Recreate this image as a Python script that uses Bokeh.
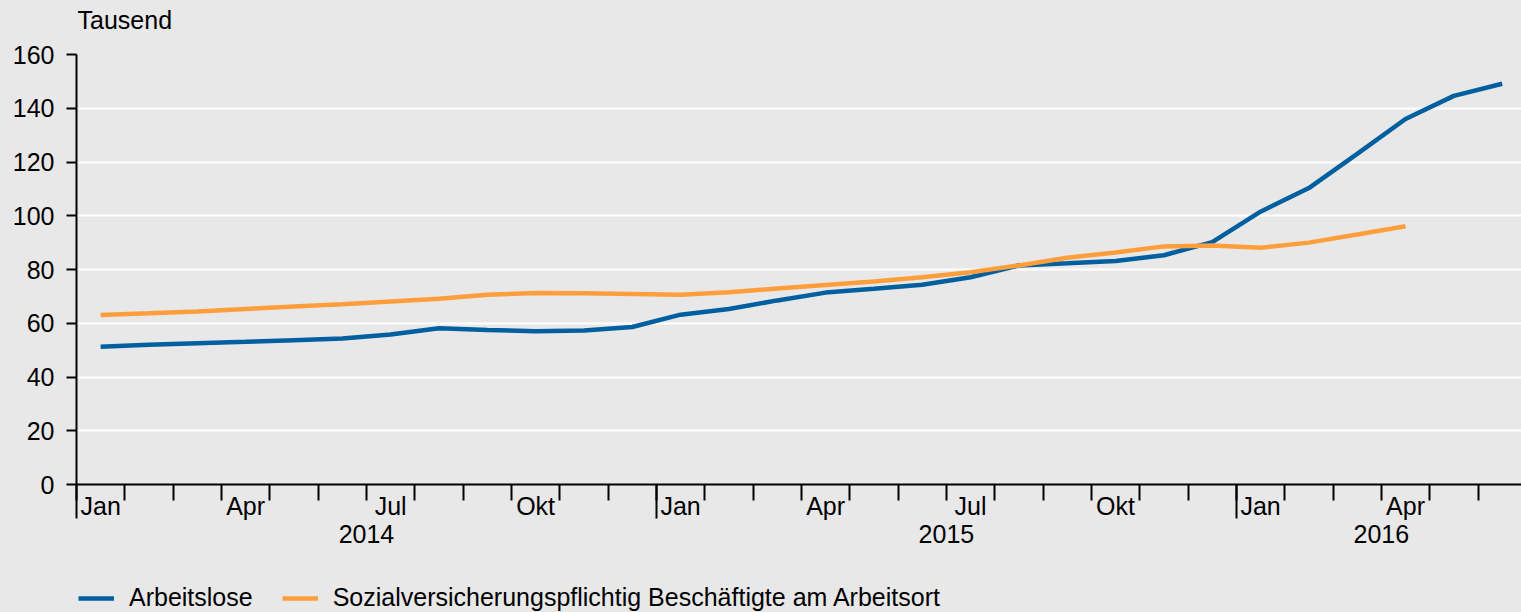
from bokeh.plotting import figure
from bokeh.models import (FixedTicker, LinearAxis, Range1d, Legend, LegendItem, Grid)
from bokeh.layouts import column
from bokeh.embed import file_html
from bokeh.resources import INLINE

# ---- data ----
months = ["Jan", "Feb", "Mär", "Apr", "Mai", "Jun", "Jul", "Aug", "Sep", "Okt", "Nov", "Dez"] * 2 + \
         ["Jan", "Feb", "Mär", "Apr", "Mai", "Jun"]
month_tick_labels = ["Jan", "Apr", "Jul", "Okt"]
years = ["2014", "2015", "2016"]
arbeitslose = [51.3, 52.0, 52.6, 53.1, 53.7, 54.3, 55.8, 58.1, 57.5, 57.0, 57.3, 58.6,
               63.2, 65.3, 68.5, 71.4, 72.8, 74.3, 77.1, 81.5, 82.3, 83.2, 85.3, 90.2,
               101.5, 110.3, 123.0, 136.0, 144.6, 149.1]
sozial = [63.1, 63.7, 64.4, 65.3, 66.2, 67.1, 68.1, 69.1, 70.6, 71.3, 71.2, 70.9,
          70.6, 71.5, 72.9, 74.2, 75.5, 77.1, 79.0, 81.5, 84.4, 86.3, 88.6, 88.9,
          88.1, 90.0, 93.0, 96.1]
y_ticks = [0, 20, 40, 60, 80, 100, 120, 140, 160]
unit_label = "Tausend"
series_names = ["Arbeitslose", "Sozialversicherungspflichtig Beschäftigte am Arbeitsort"]

BG = "#e8e8e8"
BLUE = "#005f9f"
ORANGE = "#ff9e3a"
FONT = "Liberation Sans"
FS = "25px"

n = len(months)
idx_a = list(range(len(arbeitslose)))
idx_s = list(range(len(sozial)))
X0, X1 = -0.5, 29.4

p = figure(width=1521, height=572, output_backend="svg", toolbar_location=None,
           x_range=Range1d(X0, X1), y_range=Range1d(0, 160),
           x_axis_location=None, y_axis_location=None,
           min_border_left=76, min_border_right=0, min_border_top=54, min_border_bottom=88,
           background_fill_color=BG, border_fill_color=BG, outline_line_color=None)

# unit label ("Tausend") as a single label on an invisible top axis, over the first month
unit_pos = X0 + 1.0
top_ax = LinearAxis(ticker=FixedTicker(ticks=[unit_pos]), axis_line_color=None,
                    major_tick_line_color=None, major_tick_in=0, major_tick_out=0,
                    minor_tick_line_color=None,
                    major_label_overrides={unit_pos: unit_label}, major_label_standoff=21,
                    major_label_text_font=FONT, major_label_text_font_size=FS,
                    major_label_text_color="black")
p.add_layout(top_ax, "above")

# y axis
yax = LinearAxis(ticker=FixedTicker(ticks=y_ticks), axis_line_color="black", axis_line_width=2,
                 major_tick_line_color="black", major_tick_line_width=2,
                 major_tick_in=0, major_tick_out=10, minor_tick_line_color=None,
                 major_label_standoff=12, major_label_text_font=FONT,
                 major_label_text_font_size=FS, major_label_text_color="black")
p.add_layout(yax, "left")

# x axis 1: month ticks and month labels
month_overrides = {}
for i in range(n):
    month_overrides[i] = months[i] if months[i] in month_tick_labels else ""
xax = LinearAxis(ticker=FixedTicker(ticks=list(range(n)), minor_ticks=[i - 0.5 for i in range(n + 1)]),
                 axis_line_color="black", axis_line_width=2,
                 major_tick_line_color=None, major_tick_in=0, major_tick_out=0,
                 minor_tick_line_color="black", minor_tick_line_width=2,
                 minor_tick_in=0, minor_tick_out=16,
                 major_label_overrides=month_overrides, major_label_standoff=-9,
                 major_label_text_font=FONT, major_label_text_font_size=FS,
                 major_label_text_color="black")
p.add_layout(xax, "below")

# x axis 2: year separators and year labels
year_starts = [i for i in range(n) if months[i] == "Jan"]
year_centers = []
for k, s in enumerate(year_starts):
    e = year_starts[k + 1] if k + 1 < len(year_starts) else n
    year_centers.append((s + e - 1) / 2)
year_overrides = {c: years[k] for k, c in enumerate(year_centers)}
yrax = LinearAxis(ticker=FixedTicker(ticks=year_centers, minor_ticks=[s - 0.5 for s in year_starts]),
                  axis_line_color=None,
                  major_tick_line_color=None, major_tick_in=0, major_tick_out=0,
                  minor_tick_line_color="black", minor_tick_line_width=2,
                  minor_tick_in=37, minor_tick_out=-4,
                  major_label_overrides=year_overrides, major_label_standoff=2,
                  major_label_text_font=FONT, major_label_text_font_size=FS,
                  major_label_text_color="black")
p.add_layout(yrax, "below")

p.xgrid.visible = False
p.ygrid.visible = False
g = Grid(dimension=1, ticker=FixedTicker(ticks=[t for t in y_ticks if t > 0]),
         grid_line_color="white", grid_line_width=2)
p.add_layout(g)

p.line(idx_a, arbeitslose, line_color=BLUE, line_width=4.5)
p.line(idx_s, sozial, line_color=ORANGE, line_width=4.5)

# legend strip below the chart (same series, drawn outside its visible range)
p2 = figure(width=1521, height=40, output_backend="svg", toolbar_location=None,
            x_range=Range1d(X0, X1), y_range=Range1d(-20, -10),
            x_axis_location=None, y_axis_location=None,
            min_border_left=0, min_border_right=0, min_border_top=0, min_border_bottom=0,
            background_fill_color=BG, border_fill_color=BG, outline_line_color=None)
p2.xgrid.visible = False
p2.ygrid.visible = False
l1 = p2.line(idx_a, arbeitslose, line_color=BLUE, line_width=4.5)
l2 = p2.line(idx_s, sozial, line_color=ORANGE, line_width=4.5)
legend = Legend(items=[LegendItem(label=series_names[0], renderers=[l1]),
                       LegendItem(label=series_names[1], renderers=[l2])],
                location=(2, 0), orientation="horizontal",
                background_fill_alpha=0, border_line_color=None,
                padding=0, margin=0, spacing=29, glyph_width=36, glyph_height=20,
                label_standoff=15, label_text_font=FONT, label_text_font_size=FS,
                label_text_color="black")
p2.add_layout(legend, "center")

layout = column(p, p2, spacing=0)
html = file_html(layout, INLINE)
html = html.replace("<head>", "<head><style>html,body{background:%s;}</style>" % BG, 1)
open("out.html", "w").write(html)
